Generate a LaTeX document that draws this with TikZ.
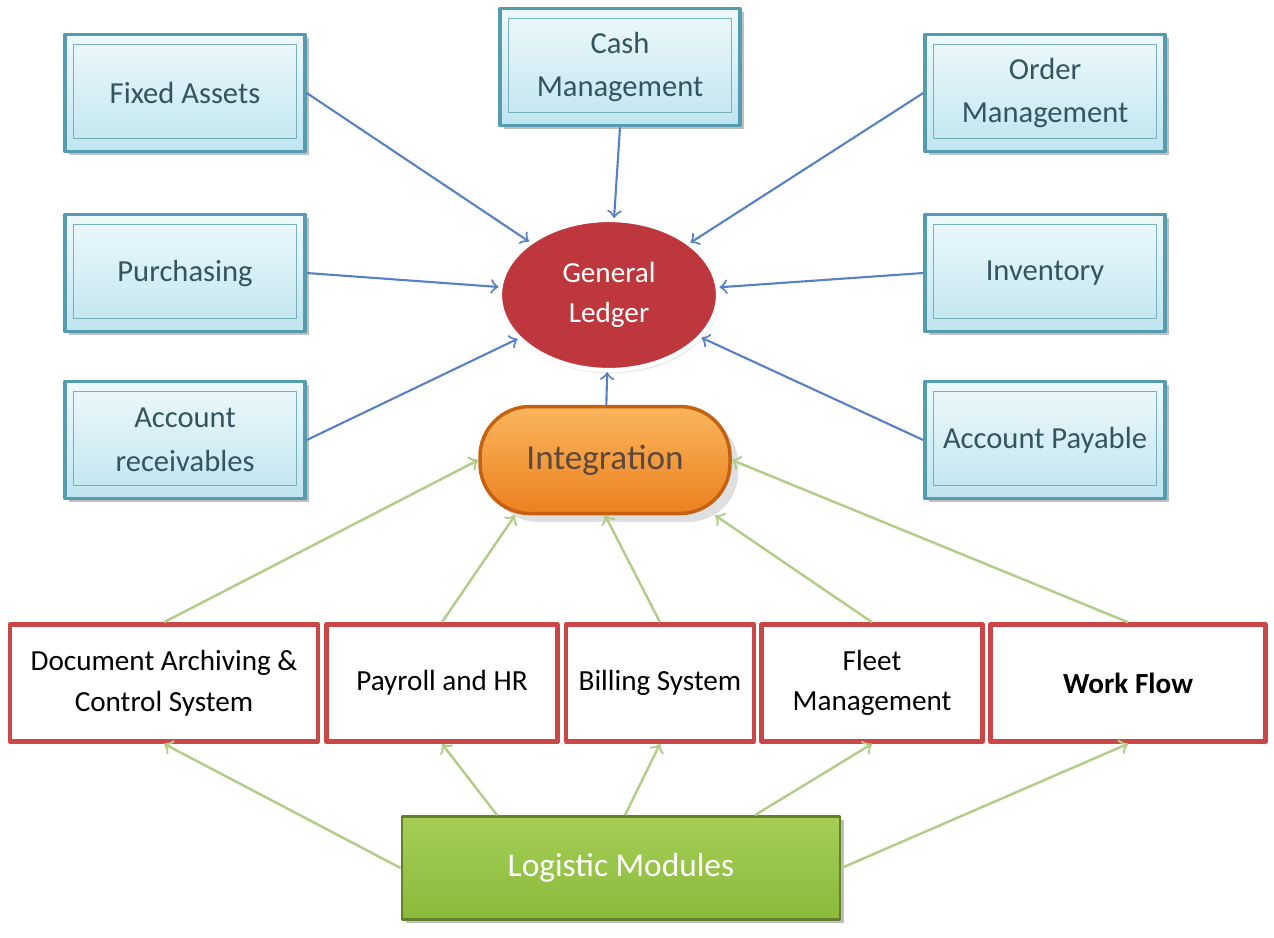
\documentclass[tikz,border=0pt]{standalone}
\usepackage{fontspec}
\setmainfont{Carlito}
\usetikzlibrary{shapes.geometric,shadows}
\definecolor{boxline}{RGB}{86,156,176}
\definecolor{boxtop}{RGB}{238,249,252}
\definecolor{boxbot}{RGB}{192,229,239}
\definecolor{boxtext}{RGB}{52,84,94}
\definecolor{ledger}{RGB}{190,55,60}
\definecolor{inttop}{RGB}{250,182,92}
\definecolor{intorange}{RGB}{236,128,32}
\definecolor{intline}{RGB}{196,98,18}
\definecolor{inttext}{RGB}{92,72,60}
\definecolor{modred}{RGB}{204,70,72}
\definecolor{lgreentop}{RGB}{166,206,86}
\definecolor{lgreen}{RGB}{138,186,60}
\definecolor{bluearr}{RGB}{88,128,196}
\definecolor{greenarr}{RGB}{178,204,138}
\begin{document}
\begin{tikzpicture}[line join=round,>=to,x=1cm,y=-1cm]
    \tikzset{every node/.style={font=\fontsize{8.7}{12.5}\selectfont,align=center}}
    \tikzset{sub/.style={draw=boxline,line width=1pt,top color=boxtop,bottom color=boxbot,text=boxtext,
            minimum width=2.4cm,minimum height=1.17cm,drop shadow={shadow xshift=1pt,shadow yshift=-1pt,opacity=0.5}},
        ledger/.style={ellipse,fill=ledger,draw=white,line width=1.2pt,text=white,inner sep=0pt,
            minimum width=2.18cm,minimum height=1.5cm,font=\fontsize{8.3}{11.5}\selectfont,
            drop shadow={shadow xshift=0.5pt,shadow yshift=-1pt,opacity=0.15}},
        integ/.style={rounded corners=0.5cm,top color=inttop,bottom color=intorange,draw=intline,line width=1pt,
            text=inttext,minimum width=2.5cm,minimum height=1.07cm,font=\fontsize{10}{12}\selectfont,
            drop shadow={opacity=0.25}},
        mod/.style={draw=modred,line width=1.3pt,fill=white,minimum height=1.17cm,text=black,inner sep=2pt,
            font=\fontsize{8.3}{11.5}\selectfont},
        logi/.style={top color=lgreentop,bottom color=lgreen,draw=lgreen!70!black,line width=0.8pt,text=white,
            minimum width=4.38cm,minimum height=1.03cm,font=\fontsize{9.5}{12}\selectfont,
            drop shadow={shadow xshift=1pt,shadow yshift=-1pt,opacity=0.5}},
        bluearr/.style={->,draw=bluearr,line width=0.6pt},
        greenarr/.style={->,draw=greenarr,line width=0.7pt}}
    \useasboundingbox (0,0) rectangle (12.74,9.37);
    % finance modules round the ledger
    \node[sub] (fa) at (1.85,0.93) {Fixed Assets};
    \node[sub] (cm) at (6.20,0.67) {Cash\\Management};
    \node[sub] (om) at (10.45,0.93) {Order\\Management};
    \node[sub] (pu) at (1.85,2.73) {Purchasing};
    \node[sub] (inv) at (10.45,2.73) {Inventory};
    \node[sub] (ar) at (1.85,4.40) {Account\\receivables};
    \node[sub] (ap) at (10.45,4.40) {Account Payable};
    \foreach \n in {fa,cm,om,pu,inv,ar,ap}
    \draw[boxline!80,thin] ([shift={(0.1,0.12)}]\n.north west) rectangle ([shift={(-0.1,-0.15)}]\n.south east);
    \node[ledger] (gl) at (6.09,2.95) {General\\Ledger};
    \node[integ] (int) at (6.05,4.60) {Integration};
    % logistic modules
    \node[mod,minimum width=3.08cm] (doc) at (1.64,6.83) {Document Archiving \&\\Control System};
    \node[mod,minimum width=2.31cm] (pay) at (4.42,6.83) {Payroll and HR};
    \node[mod,minimum width=1.88cm] (bil) at (6.60,6.83) {Billing System};
    \node[mod,minimum width=2.21cm] (flt) at (8.72,6.83) {Fleet\\Management};
    \node[mod,minimum width=2.75cm] (wf) at (11.28,6.83) {\bfseries Work Flow};
    \node[logi] (lm) at (6.21,8.68) {Logistic Modules};
    % arrows into the ledger
    \foreach \a in {fa.east,cm.south,om.west,pu.east,inv.west,ar.east,ap.west,int}
    \draw[bluearr] (\a) -- (gl);
    % arrows into integration
    \draw[greenarr] (doc.north) -- (int.west);
    \draw[greenarr] (pay.north) -- ([xshift=-0.9cm]int.south);
    \draw[greenarr] (bil.north) -- (int.south);
    \draw[greenarr] (flt.north) -- ([xshift=1.1cm]int.south);
    \draw[greenarr] (wf.north) -- (int.east);
    % arrows out of the logistic modules
    \draw[greenarr] (lm.west) -- (doc.south);
    \draw[greenarr] ([xshift=-1.24cm]lm.north) -- (pay.south);
    \draw[greenarr] ([xshift=0.04cm]lm.north) -- (bil.south);
    \draw[greenarr] ([xshift=1.34cm]lm.north) -- (flt.south);
    \draw[greenarr] (lm.east) -- (wf.south);
\end{tikzpicture}
\end{document}
